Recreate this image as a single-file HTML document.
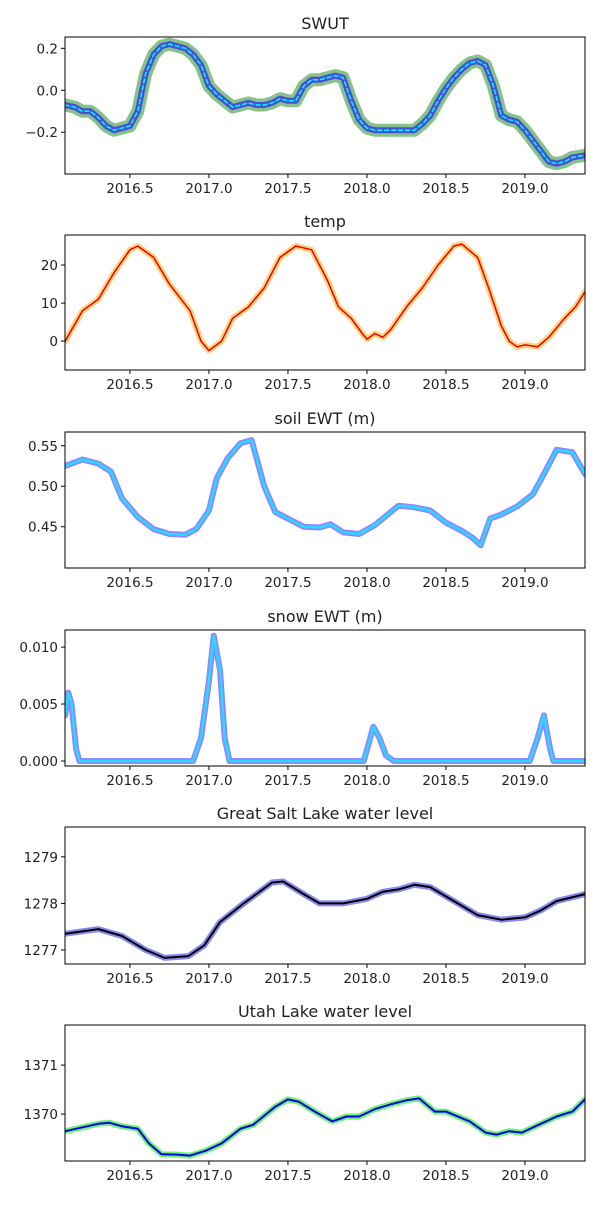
<!DOCTYPE html>
<html><head><meta charset="utf-8"><style>
body{margin:0;background:#fff;width:600px;height:1200px;overflow:hidden}
svg text{font-family:"DejaVu Sans","Liberation Sans",sans-serif;fill:#222}
</style></head><body>
<svg id="fig" width="600" height="1200" xmlns="http://www.w3.org/2000/svg"></svg>
<script>
const xTicks=[2016.5,2017.0,2017.5,2018.0,2018.5,2019.0];
const swutX=[2016.09,2016.15,2016.2,2016.25,2016.3,2016.35,2016.4,2016.45,2016.5,2016.55,2016.6,2016.65,2016.7,2016.75,2016.8,2016.85,2016.9,2016.95,2017.0,2017.05,2017.1,2017.15,2017.2,2017.25,2017.3,2017.35,2017.4,2017.45,2017.5,2017.55,2017.6,2017.65,2017.7,2017.75,2017.8,2017.85,2017.9,2017.95,2018.0,2018.05,2018.1,2018.15,2018.2,2018.25,2018.3,2018.35,2018.4,2018.45,2018.5,2018.55,2018.6,2018.65,2018.7,2018.75,2018.8,2018.85,2018.9,2018.95,2019.0,2019.05,2019.1,2019.15,2019.2,2019.25,2019.3,2019.38];
const swutY=[-0.07,-0.08,-0.1,-0.1,-0.13,-0.17,-0.19,-0.18,-0.17,-0.1,0.08,0.17,0.21,0.22,0.21,0.2,0.17,0.12,0.02,-0.02,-0.05,-0.08,-0.07,-0.06,-0.07,-0.07,-0.06,-0.04,-0.05,-0.05,0.02,0.05,0.05,0.06,0.07,0.06,-0.05,-0.14,-0.18,-0.19,-0.19,-0.19,-0.19,-0.19,-0.19,-0.16,-0.12,-0.05,0.01,0.06,0.1,0.13,0.14,0.12,0.02,-0.12,-0.14,-0.15,-0.19,-0.24,-0.29,-0.34,-0.35,-0.34,-0.32,-0.31];
const tempX=[2016.09,2016.2,2016.3,2016.4,2016.5,2016.55,2016.65,2016.75,2016.88,2016.95,2017.0,2017.08,2017.15,2017.25,2017.35,2017.45,2017.55,2017.65,2017.75,2017.82,2017.9,2017.97,2018.0,2018.05,2018.1,2018.15,2018.25,2018.35,2018.45,2018.55,2018.6,2018.7,2018.77,2018.85,2018.9,2018.95,2019.0,2019.08,2019.15,2019.25,2019.32,2019.38];
const tempY=[0,8,11,18,24,25,22,15,8,0,-2.5,0,6,9,14,22,25,24,16,9,6,2,0.5,2,1,3,9,14,20,25,25.5,22,14,4,0,-1.5,-1,-1.5,1,6,9,13];
const soilX=[2016.09,2016.2,2016.3,2016.38,2016.45,2016.55,2016.65,2016.75,2016.85,2016.92,2017.0,2017.05,2017.12,2017.2,2017.27,2017.35,2017.42,2017.55,2017.6,2017.7,2017.77,2017.85,2017.95,2018.05,2018.15,2018.2,2018.3,2018.4,2018.5,2018.6,2018.67,2018.72,2018.78,2018.85,2018.95,2019.05,2019.12,2019.2,2019.3,2019.38];
const soilY=[0.525,0.533,0.528,0.518,0.485,0.462,0.447,0.441,0.44,0.447,0.47,0.51,0.535,0.553,0.557,0.5,0.468,0.455,0.45,0.449,0.453,0.443,0.441,0.452,0.468,0.476,0.474,0.47,0.455,0.445,0.436,0.427,0.46,0.465,0.475,0.49,0.515,0.545,0.542,0.515];
const snowX=[2016.09,2016.11,2016.13,2016.16,2016.18,2016.9,2016.95,2017.0,2017.03,2017.07,2017.1,2017.13,2017.98,2018.04,2018.08,2018.12,2018.17,2019.03,2019.08,2019.12,2019.16,2019.18,2019.38];
const snowY=[0.004,0.006,0.005,0.001,0,0,0.002,0.007,0.011,0.008,0.002,0,0,0.003,0.002,0.0005,0,0,0.002,0.004,0.001,0,0];
const gslX=[2016.09,2016.3,2016.45,2016.6,2016.72,2016.87,2016.97,2017.07,2017.22,2017.4,2017.47,2017.6,2017.7,2017.85,2018.0,2018.1,2018.2,2018.3,2018.4,2018.55,2018.7,2018.85,2019.0,2019.1,2019.2,2019.38];
const gslY=[1277.35,1277.45,1277.3,1277.0,1276.83,1276.87,1277.1,1277.6,1278.0,1278.45,1278.47,1278.2,1278.0,1278.0,1278.1,1278.25,1278.3,1278.4,1278.35,1278.05,1277.75,1277.65,1277.7,1277.85,1278.05,1278.2];
const utahX=[2016.09,2016.3,2016.37,2016.45,2016.55,2016.62,2016.7,2016.8,2016.88,2016.98,2017.08,2017.2,2017.28,2017.42,2017.5,2017.57,2017.67,2017.78,2017.87,2017.95,2018.05,2018.15,2018.25,2018.33,2018.43,2018.5,2018.65,2018.75,2018.82,2018.9,2018.98,2019.1,2019.2,2019.3,2019.38];
const utahY=[1369.65,1369.8,1369.82,1369.75,1369.7,1369.4,1369.18,1369.17,1369.15,1369.25,1369.4,1369.7,1369.78,1370.15,1370.3,1370.25,1370.05,1369.85,1369.95,1369.95,1370.1,1370.2,1370.28,1370.32,1370.05,1370.05,1369.85,1369.62,1369.58,1369.65,1369.62,1369.8,1369.95,1370.05,1370.3];

const NS='http://www.w3.org/2000/svg';
const svg=document.getElementById('fig');
const L=65,R=585,XMIN=2016.089,XMAX=2019.38;
function sx(v){return L+(v-XMIN)/(XMAX-XMIN)*(R-L);}
function mk(tag,attrs,parent){const e=document.createElementNS(NS,tag);for(const k in attrs)e.setAttribute(k,attrs[k]);(parent||svg).appendChild(e);return e;}
const panels=[
 {name:'swut',title:'SWUT',top:37,bot:174,ymin:-0.399,ymax:0.254,yt:[-0.2,0,0.2],fmt:v=>v.toFixed(1).replace('-','\u2212'),x:swutX,y:swutY,
  lines:[{c:'#3a9a3a',w:13,o:0.6},{c:'#3333ee',w:6,o:0.8},{c:'#00ffff',w:1.5,o:1,d:'4,3'}]},
 {name:'temp',title:'temp',top:235,bot:370,ymin:-7.6,ymax:27.9,yt:[0,10,20],fmt:v=>String(v),x:tempX,y:tempY,
  lines:[{c:'#ffa500',w:6,o:0.5},{c:'#ee0000',w:1.5,o:1}]},
 {name:'soil',title:'soil EWT (m)',top:432,bot:568,ymin:0.399,ymax:0.567,yt:[0.45,0.5,0.55],fmt:v=>v.toFixed(2),x:soilX,y:soilY,
  lines:[{c:'#8877ff',w:6,o:0.9},{c:'#22ddff',w:2.5,o:1}]},
 {name:'snow',title:'snow EWT (m)',top:630,bot:766,ymin:-0.00044,ymax:0.0115,yt:[0,0.005,0.01],fmt:v=>v.toFixed(3),x:snowX,y:snowY,
  lines:[{c:'#8877ff',w:6,o:0.9},{c:'#22ddff',w:2.5,o:1}]},
 {name:'gsl',title:'Great Salt Lake water level',top:827,bot:964,ymin:1276.7,ymax:1279.64,yt:[1277,1278,1279],fmt:v=>String(v),x:gslX,y:gslY,
  lines:[{c:'#5555ee',w:6,o:0.7},{c:'#000000',w:2,o:1}]},
 {name:'utah',title:'Utah Lake water level',top:1025,bot:1161,ymin:1369.04,ymax:1371.82,yt:[1370,1371],fmt:v=>String(v),x:utahX,y:utahY,
  lines:[{c:'#33ee33',w:6,o:0.7},{c:'#0000ee',w:2,o:1}]}
];
panels.forEach(p=>{
 const g=mk('g',{});
 
 
 const sy=v=>p.bot-(v-p.ymin)/(p.ymax-p.ymin)*(p.bot-p.top);
 const cid='clip-'+p.name;
 const cp=mk('clipPath',{id:cid},g);mk('rect',{x:L,y:p.top,width:R-L,height:p.bot-p.top},cp);
 const pts=p.x.map((v,i)=>sx(v).toFixed(1)+','+sy(p.y[i]).toFixed(1)).join(' ');
 p.lines.forEach((ln,j)=>{
  const pl=mk('polyline',{points:pts,fill:'none',stroke:ln.c,'stroke-width':ln.w,'stroke-opacity':ln.o,'stroke-linejoin':'round','stroke-linecap':'round','clip-path':'url(#'+cid+')'},g);
  if(ln.d)pl.setAttribute('stroke-dasharray',ln.d);
  
  
 });
 const fr=mk('rect',{x:L,y:p.top,width:R-L,height:p.bot-p.top,fill:'none',stroke:'#000','stroke-width':1},g);
 
 
 const t=mk('text',{x:(L+R)/2,y:p.top-8,'text-anchor':'middle','font-size':16},g);t.textContent=p.title;
 
 
 xTicks.forEach(v=>{
  const x=sx(v);
  mk('line',{x1:x,x2:x,y1:p.bot,y2:p.bot+4,stroke:'#000'},g);
  const tl=mk('text',{x:x,y:p.bot+19,'text-anchor':'middle','font-size':13.5},g);tl.textContent=v.toFixed(1);
  
  
 });
 p.yt.forEach(v=>{
  const y=sy(v);
  mk('line',{x1:L-4,x2:L,y1:y,y2:y,stroke:'#000'},g);
  const tl=mk('text',{x:L-7,y:y+5,'text-anchor':'end','font-size':13.5},g);tl.textContent=p.fmt(v);
  
  
 });
});
</script>
</body></html>
